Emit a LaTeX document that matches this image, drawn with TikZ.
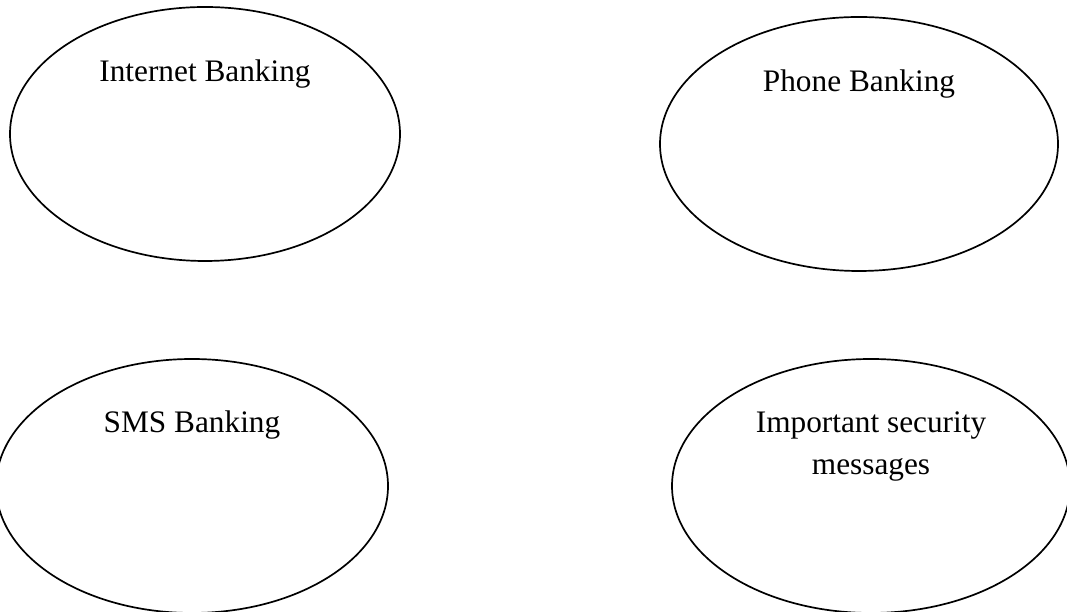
\documentclass[tikz,border=0pt]{standalone}
\usepackage{fontspec}
\setmainfont{Liberation Serif}
\usetikzlibrary{shapes.geometric}
\begin{document}
\begin{tikzpicture}[x=1pt,y=1pt,
  oval/.style={ellipse, draw=black, line width=1.7pt, inner sep=0pt},
  caption/.style={anchor=base, align=center, inner sep=0pt,
    font=\fontsize{31.3}{42}\selectfont}]
  \useasboundingbox (0,0) rectangle (1067,612);
  \clip (0,0) rectangle (1067,612);
  % the four banking channels
  \node[oval, minimum width=390pt, minimum height=254pt] (ib) at (205,478) {};
  \node[oval, minimum width=398pt, minimum height=254pt] (pb) at (859,468) {};
  \node[oval, minimum width=392pt, minimum height=254pt] (sb) at (192,126) {};
  \node[oval, minimum width=398pt, minimum height=254pt] (sm) at (871,126) {};
  % titles set near the top of each oval
  \node[caption] (ibt) at ([yshift=-75pt]ib.north) {Internet Banking};
  \node[caption] (pbt) at ([yshift=-75pt]pb.north) {Phone Banking};
  \node[caption] (sbt) at ([yshift=-74pt]sb.north) {SMS Banking};
  % two-line title: its base anchor sits on the last line
  \node[caption] (smt) at ([yshift=-116pt]sm.north)
    {Important security\\messages};
\end{tikzpicture}
\end{document}
